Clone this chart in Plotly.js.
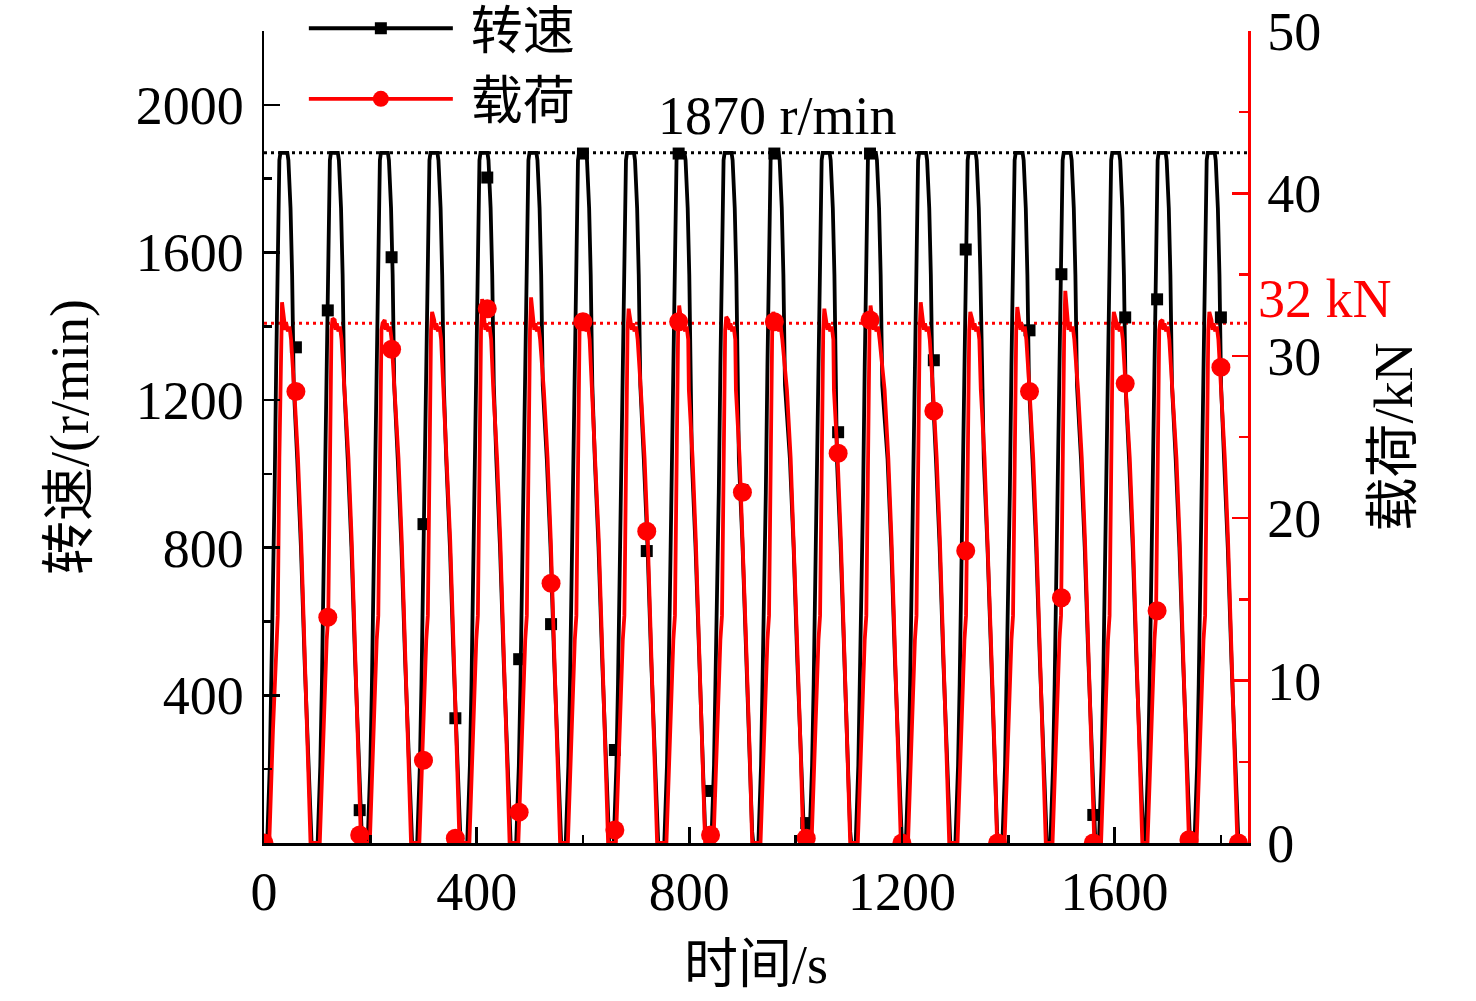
<!DOCTYPE html>
<html>
<head>
<meta charset="utf-8">
<script src="https://cdn.plot.ly/plotly-3.0.1.min.js"></script>
<style>
  html, body { margin: 0; padding: 0; background: #ffffff; }
  #chart { width: 1476px; height: 1001px; }
</style>
</head>
<body>
<div id="chart"></div>
<script>
// ---- Values ----
// time (s) of the centre of each speed plateau (1870 r/min) and of each valley (0 r/min)
const peakTimes   = [36.9, 131.9, 226, 319.2, 413.3, 505.4, 598.6, 688.9, 784, 872.5, 961, 1057, 1144, 1238.4, 1331.6, 1420, 1510.3, 1601.6, 1689, 1781.3];
const valleyTimes = [91.5, 186.5, 280.6, 371.8, 466, 561, 651.3, 743.5, 833.8, 922.3, 1018.3, 1106.7, 1202, 1293, 1383, 1474.6, 1565.9, 1656.2, 1744, 1835];
// maximum load (kN) of each cycle
const peakLoads   = [33.3, 32.3, 32.0, 32.7, 33.5, 33.6, 32.6, 32.9, 33.1, 32.4, 32.7, 32.9, 33.1, 33.3, 32.7, 33.0, 34.0, 32.7, 32.1, 32.7];

// shape of one speed cycle (offsets in s)
const speedRiseOffsets = [-31, -26, -23, -20, -17, -14, -11, -8, -6];      // from plateau centre
const speedRiseValues  = [0, 210, 430, 750, 950, 1290, 1650, 1850, 1870];
const speedTopOffsets  = [7, 9, 13, 16, 19];                               // from plateau centre
const speedTopValues   = [1870, 1850, 1720, 1540, 1240];
const speedFallOffsets = [-29, -22, -15, -9, -4, -2];                      // from valley
const speedFallValues  = [1040, 800, 490, 240, 30, 0];

// shape of one load cycle (offsets in s)
const loadRiseOffsets = [-27, -20, -14, -11, -8, -5];                      // from plateau centre
const loadRiseValues  = [0, 7, 12.5, 14, 23.7, 31.6];
const loadPeakOffset  = -3;
const loadTopOffsets  = [1, 3, 5, 8, 11, 14];                              // from plateau centre
const loadTopValues   = [32.2, 31.6, 32.0, 31.5, 31.8, 31.0];
const loadFallOffsets = [-34.6, -27.6, -21.6, -15.6, -8.6, -4];            // from valley
const loadFallValues  = [27.9, 23.7, 18.7, 12.5, 5.5, 0];

// symbols drawn on the curves
const markerTimes = [0, 60, 120, 180, 240, 300, 360, 420, 480, 540, 600, 660, 720, 780, 840, 900, 960, 1020, 1080, 1140, 1200, 1260, 1320, 1380, 1440, 1500, 1560, 1620, 1680, 1740, 1800, 1833];
const speedMarks  = [0, 1343, 1443, 89, 1587, 864, 338, 1803, 498, 593, 1868, 252, 791, 1868, 141, 956, 1868, 54, 1113, 1868, 0, 1308, 1608, 0, 1389, 1541, 76, 1424, 1473, 0, 1424, 0];
const loadMarks   = [0, 27.8, 13.9, 0.5, 30.4, 5.1, 0.3, 32.9, 1.9, 16.0, 32.1, 0.8, 19.2, 32.1, 0.5, 21.6, 32.1, 0.3, 24.0, 32.2, 0, 26.6, 18.0, 0, 27.8, 15.1, 0, 28.3, 14.3, 0.2, 29.3, 0];

const speedRef = 1870;   // r/min
const loadRef  = 32;     // kN

const xTickVals  = [0, 400, 800, 1200, 1600];
const xMinorVals = [200, 600, 1000, 1400, 1800];
const yTickVals  = [400, 800, 1200, 1600, 2000];
const yMinorVals = [200, 600, 1000, 1400, 1800, 2200];
const y2TickVals = [0, 10, 20, 30, 40, 50];
const y2MinorVals = [5, 15, 25, 35, 45];

// ---- build the curves from the values above ----
const speedT = [0], speedV = [0];
const loadT = [0], loadV = [0];
for (let k = 0; k < peakTimes.length; k++) {
  const P = peakTimes[k], V = valleyTimes[k];
  speedRiseOffsets.forEach((o, i) => { speedT.push(P + o); speedV.push(speedRiseValues[i]); });
  speedTopOffsets.forEach((o, i)  => { speedT.push(P + o); speedV.push(speedTopValues[i]); });
  speedFallOffsets.forEach((o, i) => { speedT.push(V + o); speedV.push(speedFallValues[i]); });

  loadRiseOffsets.forEach((o, i) => { loadT.push(P + o); loadV.push(loadRiseValues[i]); });
  loadT.push(P + loadPeakOffset); loadV.push(peakLoads[k]);
  loadTopOffsets.forEach((o, i)  => { loadT.push(P + o); loadV.push(loadTopValues[i]); });
  loadFallOffsets.forEach((o, i) => { loadT.push(V + o); loadV.push(loadFallValues[i]); });
}

// isolated symbol points (gaps between them) so the legend shows line + symbol
function isolate(xs, ys) {
  const gx = [], gy = [];
  xs.forEach((x, i) => { gx.push(x, null); gy.push(ys[i], null); });
  return [gx, gy];
}
const [smx, smy] = isolate(markerTimes, speedMarks);
const [lmx, lmy] = isolate(markerTimes, loadMarks);

const BLACK = '#000000';
const RED = '#ff0000';
const FONT = 'Liberation Serif, "Times New Roman", "Noto Sans CJK SC", serif';
const LW = 3.8;

const traces = [
  { x: speedT, y: speedV, mode: 'lines', line: { color: BLACK, width: LW }, showlegend: false, hoverinfo: 'skip' },
  { x: smx, y: smy, name: '\u00a0转速', mode: 'lines+markers', connectgaps: false,
    line: { color: BLACK, width: LW }, marker: { symbol: 'square', size: 12, color: BLACK } },
  { x: loadT, y: loadV, yaxis: 'y2', mode: 'lines', line: { color: RED, width: LW }, showlegend: false, hoverinfo: 'skip' },
  { x: lmx, y: lmy, yaxis: 'y2', name: '\u00a0载荷', mode: 'lines+markers', connectgaps: false,
    line: { color: RED, width: LW }, marker: { symbol: 'circle', size: 19, color: RED } }
];

const layout = {
  width: 1476, height: 1001,
  margin: { l: 264, r: 228, t: 31, b: 158, pad: 0, autoexpand: false },
  paper_bgcolor: '#ffffff', plot_bgcolor: '#ffffff',
  font: { family: FONT, size: 54, color: BLACK },
  showlegend: true,
  legend: {
    x: 0.0405, y: 1.053, xanchor: 'left', yanchor: 'top',
    bgcolor: 'rgba(0,0,0,0)', borderwidth: 0,
    itemwidth: 144, tracegroupgap: 0,
    font: { family: FONT, size: 52, color: BLACK }
  },
  xaxis: {
    range: [0, 1851], showgrid: false, zeroline: false,
    showline: true, linecolor: BLACK, linewidth: 2.5, mirror: false,
    ticks: 'inside', ticklen: 16, tickwidth: 2.5, tickcolor: BLACK,
    tickmode: 'array', tickvals: xTickVals, ticktext: xTickVals.map(String),
    minor: { tickmode: 'array', tickvals: xMinorVals, ticks: 'inside', ticklen: 8, tickwidth: 2.5, tickcolor: BLACK },
    ticklabelstandoff: 0,
    tickfont: { family: FONT, size: 54, color: BLACK },
    title: { text: '时间/s', font: { family: FONT, size: 54, color: BLACK }, standoff: 24 }
  },
  yaxis: {
    range: [0, 2200], showgrid: false, zeroline: false,
    showline: true, linecolor: BLACK, linewidth: 2.5,
    ticks: 'inside', ticklen: 16, tickwidth: 2.5, tickcolor: BLACK,
    tickmode: 'array', tickvals: yTickVals, ticktext: yTickVals.map(String),
    minor: { tickmode: 'array', tickvals: yMinorVals, ticks: 'inside', ticklen: 8, tickwidth: 2.5, tickcolor: BLACK },
    ticklabelstandoff: 7,
    tickfont: { family: FONT, size: 54, color: BLACK },
    title: { text: '转速/(r/min)', font: { family: FONT, size: 54, color: BLACK }, standoff: 30 }
  },
  yaxis2: {
    overlaying: 'y', side: 'right', anchor: 'x',
    range: [0, 50], showgrid: false, zeroline: false,
    showline: true, linecolor: RED, linewidth: 2.5,
    ticks: 'inside', ticklen: 16, tickwidth: 2.5, tickcolor: RED,
    tickmode: 'array', tickvals: y2TickVals, ticktext: y2TickVals.map(String),
    minor: { tickmode: 'array', tickvals: y2MinorVals, ticks: 'inside', ticklen: 9, tickwidth: 2.5, tickcolor: RED },
    ticklabelstandoff: 6,
    tickfont: { family: FONT, size: 54, color: BLACK },
    title: { text: '载荷/kN', font: { family: FONT, size: 54, color: BLACK }, standoff: 54 }
  },
  shapes: [
    { type: 'line', xref: 'paper', x0: 0, x1: 1, yref: 'y', y0: speedRef, y1: speedRef,
      line: { color: BLACK, width: 3, dash: '3px,4px' }, layer: 'below' },
    { type: 'line', xref: 'paper', x0: 0, x1: 1, yref: 'y2', y0: loadRef, y1: loadRef,
      line: { color: RED, width: 3, dash: '3px,4px' }, layer: 'below' }
  ],
  annotations: [
    { text: speedRef + ' r/min', xref: 'x', yref: 'y', x: 966, y: 1971, xanchor: 'center', yanchor: 'middle',
      showarrow: false, font: { family: FONT, size: 54, color: BLACK } },
    { text: loadRef + ' kN', xref: 'paper', yref: 'y2', x: 1.078, y: 33.5, xanchor: 'center', yanchor: 'middle',
      showarrow: false, font: { family: FONT, size: 54, color: RED } }
  ]
};

Plotly.newPlot('chart', traces, layout, { displayModeBar: false, staticPlot: true });
</script>
</body>
</html>
